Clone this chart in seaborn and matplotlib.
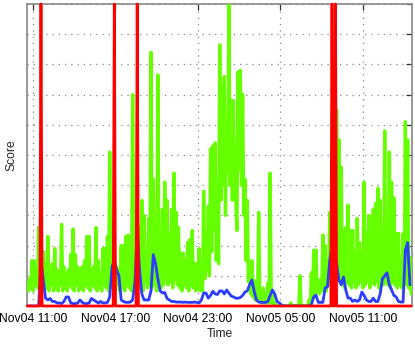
import numpy as np
import pandas as pd
import matplotlib
matplotlib.use("Agg")
import matplotlib.pyplot as plt
import matplotlib.dates as mdates
from matplotlib.ticker import FixedLocator, NullFormatter
import seaborn as sns

# ---------------- data ----------------
green_start = "2013-11-04 10:35"
green_step_min = 5
green_score = [
    7.6, 5, 9, 6, 15, 5, 15, 7, 12, 6, 26, 7,
    29.5, 7, 18, 5, 14, 6, 23, 5, 13, 7, 14, 5,
    19, 6, 12, 5, 11, 7, 27, 5, 13, 6, 11, 5,
    12, 7, 17, 6, 25.5, 5, 17, 7, 13, 5, 12, 6,
    13, 5, 15, 7, 23, 6, 23, 5, 12, 7, 13, 6,
    26, 5, 15, 6, 11, 5, 19, 7, 19, 6, 23, 5,
    51, 7, 27.5, 6, 20, 5, 13, 7, 12, 5, 20, 6,
    20, 5, 23, 7, 23.5, 6, 13, 5, 70, 7, 20, 6,
    20, 7, 26, 6, 35, 5, 30, 8, 14, 6, 29, 7,
    84, 6, 42, 7, 26, 5, 76.5, 8, 16, 6, 32, 7,
    41, 9, 35, 7, 24, 8, 32, 6, 44, 9, 31, 7,
    26, 6, 17.5, 5, 17.5, 7, 15, 6, 21, 5, 22, 7,
    25, 6, 14, 5, 14, 6, 19, 5, 8, 5, 38, 9,
    24, 12, 33, 10, 52, 18, 53, 25, 54, 15, 41, 14,
    86.5, 35, 72.5, 40, 76, 30, 55, 45, 100, 40, 68, 35,
    68, 40, 35, 25, 77.5, 45, 78, 40, 70, 30, 42, 15,
    35, 8, 11, 4, 15, 3, 8.6, 2, 6, 2, 31, 2,
    5, 1, 6, 1, 4, 1, 7.5, 1, 44, 1, 4, 0,
    1, 0, 0, 0, 0, 0, 0, 0, 0, 0, 0, 0,
    0, 0, 1, 0, 0, 0, 0, 0, 0, 0, 10, 0,
    0, 0, 0, 0, 0, 0, 2, 0, 11, 2, 18.5, 3,
    18.5, 5, 8.6, 4, 8.6, 5, 23.5, 6, 20, 5, 15, 7,
    31, 7, 30, 8, 20, 7, 65, 10, 55, 8, 46, 7,
    25, 6, 26, 8, 33.4, 7, 25, 6, 25, 8, 17.5, 6,
    29, 7, 21, 8, 18, 6, 41, 7, 24, 8, 30, 6,
    29.5, 8, 32, 7, 34, 8, 39, 6, 35, 8, 24, 7,
    58, 8, 29, 7, 51, 6, 41, 8, 35.8, 7, 24, 6,
    24, 7, 12.6, 6, 24, 8, 61, 7, 55, 6, 16, 4,
]

blue_start = "2013-11-04 10:35"
blue_step_min = 10
blue_score = [
    0, 0, 0, 0, 0, 0,
    15, 8.6, 2.6, 2, 2.5, 1.5,
    1.5, 1, 1, 0.8, 1.5, 3,
    3, 1, 0.8, 0.8, 1, 2,
    1.2, 0.8, 0.8, 1, 2.5, 2,
    1.5, 1, 1.5, 1, 1, 1.2,
    3, 13, 15, 12, 10, 2,
    1.5, 1.2, 1.2, 1.3, 2, 8,
    25, 12, 4, 2, 2, 2,
    5, 17, 14, 9, 5, 4.3,
    4.5, 2.5, 2, 1.5, 1.5, 1.3,
    1.3, 1.3, 1.2, 1.3, 1.2, 1.2,
    1.2, 1.3, 1.2, 1.0, 2, 4.3,
    4.3, 2.6, 3.5, 4.9, 4, 3.8,
    5, 5, 4, 5.3, 4.3, 3.3,
    3, 2.6, 2.6, 2.8, 3.5, 4.6,
    5, 7, 8.6, 5, 2, 1.3,
    1.2, 1.2, 1.2, 1.5, 3.5, 5.3,
    4, 1.5, 1, 0.3, 0, 0,
    0, 0, 0, 0, 0, 0,
    0, 0, 0, 0, 0.5, 3,
    3.6, 1.2, 1.2, 1.2, 6, 6.3,
    15, 20, 20, 14, 8.6, 7,
    9.6, 5.3, 2.6, 2.6, 1.5, 2,
    1.5, 2, 4.6, 3.5, 2, 1.5,
    1.5, 2.6, 1.5, 1.5, 4, 9,
    10, 11, 7, 5.3, 3.5, 3,
    1.5, 1.3, 1.3, 18.5, 21, 7,
]

red_event_times = ["2013-11-04 11:35", "2013-11-04 16:55", "2013-11-04 18:35",
                   "2013-11-05 08:45", "2013-11-05 09:00"]
red_event_score = 100
red_base_score = 0

x_tick_times = ["2013-11-04 11:00", "2013-11-04 17:00", "2013-11-04 23:00",
                "2013-11-05 05:00", "2013-11-05 11:00"]
x_tick_labels = ["Nov04 11:00", "Nov04 17:00", "Nov04 23:00",
                 "Nov05 05:00", "Nov05 11:00"]
x_range = ["2013-11-04 10:34", "2013-11-05 14:34"]
y_range = (0, 100)
y_ticks = [0, 10, 20, 30, 40, 50, 60, 70, 80, 90, 100]
x_label = "Time"
y_label = "Score"

# ---------------- frames ----------------
green_df = pd.DataFrame({
    "time": pd.date_range(green_start, periods=len(green_score), freq=f"{green_step_min}min"),
    "score": green_score,
})
blue_df = pd.DataFrame({
    "time": pd.date_range(blue_start, periods=len(blue_score), freq=f"{blue_step_min}min"),
    "score": blue_score,
})
events = pd.to_datetime(red_event_times)
red_df = pd.DataFrame({
    "time": green_df["time"],
    "score": np.where(green_df["time"].isin(events), red_event_score, red_base_score),
})

# ---------------- plot ----------------
sns.set_style("white")
plt.rcParams["font.family"] = ["Liberation Sans", "DejaVu Sans"]

fig = plt.figure(figsize=(4.15, 3.45), dpi=100)
ax = fig.add_axes([27 / 415, 1 - 306 / 345, 385 / 415, 302 / 345])

sns.lineplot(data=green_df, x="time", y="score", ax=ax, color="#66ff00",
             linewidth=2.4, estimator=None, zorder=2)
sns.lineplot(data=blue_df, x="time", y="score", ax=ax, color="#2b3dff",
             linewidth=2.0, estimator=None, zorder=3)
sns.lineplot(data=red_df, x="time", y="score", ax=ax, color="#ff0000",
             linewidth=2.0, estimator=None, zorder=4)
ax.lines[-1].set_clip_on(False)

ax.set_xlim(pd.to_datetime(x_range[0]), pd.to_datetime(x_range[1]))
ax.set_ylim(*y_range)

ax.xaxis.set_major_locator(FixedLocator(mdates.date2num(pd.to_datetime(x_tick_times))))
ax.set_xticklabels(x_tick_labels)
ax.yaxis.set_major_locator(FixedLocator(y_ticks))
ax.yaxis.set_major_formatter(NullFormatter())

ax.tick_params(axis="both", which="major", direction="in", length=4,
               width=0.9, color="#333333", top=True, right=True,
               labelsize=8.7, pad=5, labelcolor="black")
ax.grid(True, color="#888888", linestyle=(0, (1, 4)), linewidth=0.9)
for s in ax.spines.values():
    s.set_color("#888888")
    s.set_linewidth(1.2)
    s.set_zorder(1)

ax.set_xlabel(x_label, fontsize=8.7, labelpad=2)
ax.set_ylabel(y_label, fontsize=8.7, labelpad=2)

fig.savefig("out.png", dpi=100)
